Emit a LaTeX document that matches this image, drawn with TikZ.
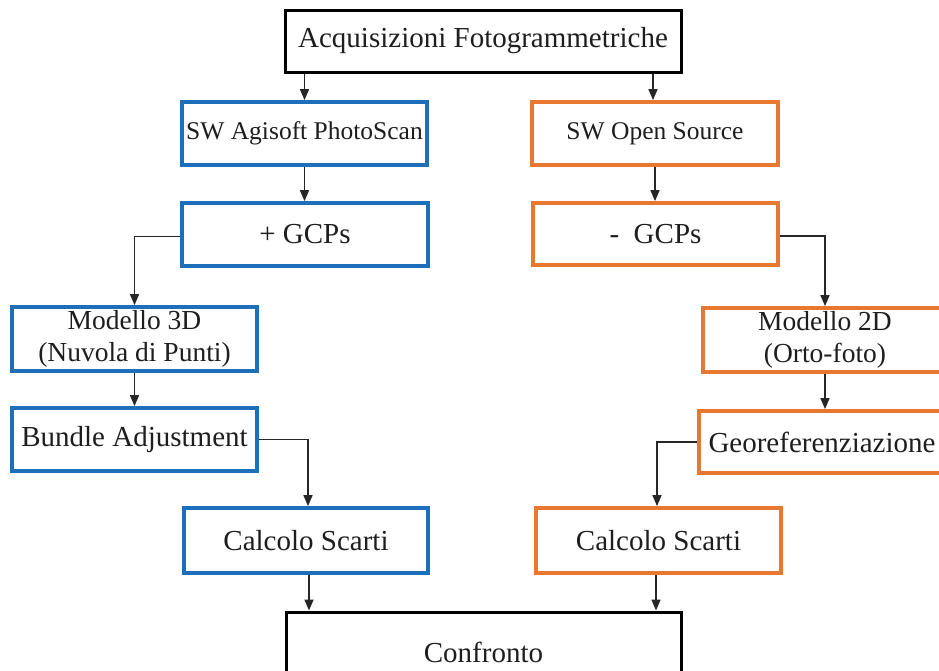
\documentclass[tikz,border=0pt]{standalone}
\usepackage{fontspec}
\setmainfont{Liberation Serif}
\usetikzlibrary{arrows.meta}
\definecolor{bluebox}{HTML}{1C6FB8}
\definecolor{orangebox}{HTML}{E8782F}
\definecolor{txt}{HTML}{1E1E1E}
\tikzset{
  box/.style={draw, rectangle, inner sep=0pt, align=center, text=txt, font=\fontsize{29}{32}\selectfont},
  blackbox/.style={box, draw=black, line width=3pt},
  bluecol/.style={box, draw=bluebox, line width=3.8pt},
  orangecol/.style={box, draw=orangebox, line width=3.8pt},
  small/.style={font=\fontsize{25.5}{30}\selectfont},
  two/.style={font=\fontsize{27.5}{32}\selectfont},
  arr/.style={draw=black!85, line width=1.6pt, -{Triangle[length=11pt,width=9pt]}},
}
\begin{document}
\begin{tikzpicture}[x=1pt,y=-1pt]
\useasboundingbox (0,0) rectangle (939,670);
\clip (0,0) rectangle (939,670);
\fill[white] (0,0) rectangle (939,670);
\node[blackbox, minimum width=396pt, minimum height=62pt] (top) at (483,41) {Acquisizioni Fotogrammetriche};
\node[bluecol, small, minimum width=245pt, minimum height=63pt] (swL) at (304.5,133.5) {SW Agisoft PhotoScan};
\node[orangecol, small, minimum width=246pt, minimum height=63pt] (swR) at (655,133.5) {SW Open Source};
\node[bluecol, minimum width=246pt, minimum height=63pt] (gcpL) at (305,234.5) {+ GCPs};
\node[orangecol, minimum width=245pt, minimum height=62pt] (gcpR) at (655.5,234) {-\ \ GCPs};
\node[bluecol, two, minimum width=245pt, minimum height=64pt] (m3d) at (134.5,339) {Modello 3D\\(Nuvola di Punti)};
\node[orangecol, two, minimum width=244pt, minimum height=64pt] (m2d) at (825,340) {Modello 2D\\(Orto-foto)};
\node[bluecol, minimum width=245pt, minimum height=63pt] (ba) at (134.5,439.5) {Bundle Adjustment};
\node[orangecol, minimum width=246pt, minimum height=62pt] (geo) at (822,442) {Georeferenziazione};
\node[bluecol, minimum width=244pt, minimum height=65pt] (csL) at (306,540.5) {Calcolo Scarti};
\node[orangecol, minimum width=245pt, minimum height=65pt] (csR) at (658.5,540.5) {Calcolo Scarti};
\node[blackbox, minimum width=395pt, minimum height=80pt] (conf) at (483.5,652) {Confronto};
\draw[arr] (swL.north |- top.south) -- (swL.north);
\draw[arr] ([xshift=-2pt]swR.north |- top.south) -- ([xshift=-2pt]swR.north);
\draw[arr] (swL.south) -- (swL.south |- gcpL.north);
\draw[arr] (swR.south) -- (swR.south |- gcpR.north);
\draw[arr] ([yshift=-2pt]gcpL.west) -| (m3d.north);
\draw[arr] ([yshift=-2pt]gcpR.east) -| (m2d.north);
\draw[arr] (m3d.south) -- (m3d.south |- ba.north);
\draw[arr] (m2d.south) -- (m2d.south |- geo.north);
\draw[arr] (ba.east) -| ([xshift=2pt]csL.north);
\draw[arr] (geo.west) -| ([xshift=-1.5pt]csR.north);
\draw[arr] ([xshift=3pt]csL.south) -- ([xshift=3pt]csL.south |- conf.north);
\draw[arr] ([xshift=-2.5pt]csR.south) -- ([xshift=-2.5pt]csR.south |- conf.north);
\end{tikzpicture}
\end{document}
